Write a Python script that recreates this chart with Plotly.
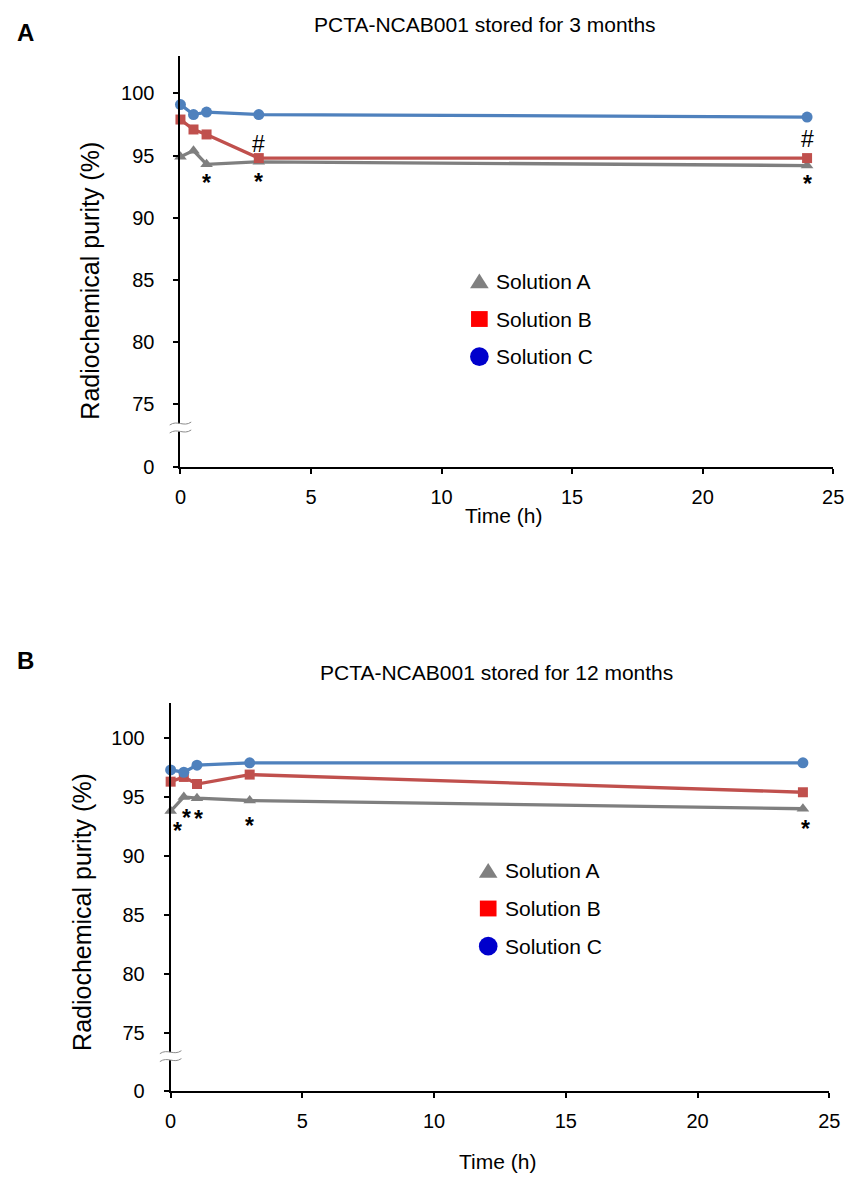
import plotly.graph_objects as go

# ---------------- data ----------------
time_h = [0, 0.5, 1, 3, 24]
series_names = ["Solution A", "Solution B", "Solution C"]

a_3m = [94.9, 95.4, 94.3, 94.5, 94.2]
b_3m = [97.9, 97.1, 96.7, 94.8, 94.8]
c_3m = [99.1, 98.3, 98.5, 98.3, 98.1]

a_12m = [93.8, 95.0, 94.9, 94.7, 94.0]
b_12m = [96.3, 96.7, 96.1, 96.9, 95.4]
c_12m = [97.3, 97.1, 97.7, 97.9, 97.9]

y_tickvals = [70, 75, 80, 85, 90, 95, 100]
y_ticktext = ["0", "75", "80", "85", "90", "95", "100"]
x_tickvals = [0, 5, 10, 15, 20, 25]

titles = ["PCTA-NCAB001 stored for 3 months", "PCTA-NCAB001 stored for 12 months"]
panel_letters = ["A", "B"]

# significance marks: (panel, series index, time index, symbol, dx px, dy px)
marks = [
    (0, 0, 2, "*", 0, -19), (0, 0, 3, "*", 0, -20), (0, 1, 3, "#", 0, 14),
    (0, 1, 4, "#", 0, 19), (0, 0, 4, "*", 0, -18),
    (1, 0, 0, "*", 7, -20), (1, 0, 1, "*", 3, -21), (1, 0, 2, "*", 2, -21),
    (1, 0, 3, "*", 0, -25), (1, 0, 4, "*", 3, -20),
]

# ---------------- styling ----------------
W, H = 853, 1187
FONT = "Arial, Liberation Sans, sans-serif"
line_colors = ["#7F7F7F", "#C0504D", "#4F81BD"]
symbols = ["triangle-up", "square", "circle"]
msizes = [11, 10, 11]
legend_colors = ["#808080", "#FF0000", "#0000CC"]


def px(x):
    return x / W


def py(y):
    return 1 - y / H


# panel geometry in pixels: (x_left, x_right, y_top, y_bottom)
panels = [(178, 844, 56.6, 471.0), (168, 840, 709.3, 1101.7)]

fig = go.Figure()
data_sets = [[a_3m, b_3m, c_3m], [a_12m, b_12m, c_12m]]

for p, sets in enumerate(data_sets):
    xa = "x" if p == 0 else "x2"
    ya = "y" if p == 0 else "y2"
    for i, vals in enumerate(sets):
        fig.add_trace(go.Scatter(
            x=time_h, y=vals, mode="lines+markers", name=series_names[i],
            line=dict(color=line_colors[i], width=3.3),
            marker=dict(symbol=symbols[i], size=msizes[i], color=line_colors[i]),
            xaxis=xa, yaxis=ya, cliponaxis=False, showlegend=False,
        ))

axis_common = dict(
    showline=True, linecolor="black", linewidth=2, ticks="outside",
    ticklen=5, tickwidth=2, tickcolor="black", showgrid=False, zeroline=False,
    tickfont=dict(family=FONT, size=20, color="black"),
)

layout = dict(
    width=W, height=H, margin=dict(l=0, r=0, t=0, b=0),
    paper_bgcolor="white", plot_bgcolor="white", showlegend=False,
)
for p, (xl, xr, yt, yb) in enumerate(panels):
    sx = "" if p == 0 else "2"
    layout["xaxis" + sx] = dict(
        axis_common, domain=[px(xl), px(xr)], range=[0, 25],
        tickvals=x_tickvals, anchor="y" + sx, ticklabelstandoff=6,
    )
    layout["yaxis" + sx] = dict(
        axis_common, domain=[py(yb), py(yt)], range=[70, 103],
        tickvals=y_tickvals, ticktext=y_ticktext, anchor="x" + sx,
        ticklabelstandoff=15,
    )
fig.update_layout(**layout)

annotations = []
shapes = []


def paper_text(text, x, y, size, angle=0, xanchor="center"):
    return dict(text=text, x=px(x), y=py(y), xref="paper", yref="paper", showarrow=False,
                xanchor=xanchor, yanchor="middle", textangle=angle,
                font=dict(family=FONT, size=size, color="black"))


# titles, panel letters, axis titles
title_pos = [(489, 25), (500, 679)]
letter_pos = [(20, 33), (20, 667)]
ytitle_pos = [(86, 283), (78, 920)]
xtitle_pos = [(508, 520), (502, 1172)]
for p in range(2):
    annotations.append(paper_text(titles[p], *title_pos[p], 21))
    annotations.append(paper_text("<b>" + panel_letters[p] + "</b>", *letter_pos[p], 24))
    annotations.append(paper_text("Radiochemical purity (%)", *ytitle_pos[p], 25, angle=-90))
    annotations.append(paper_text("Time (h)", *xtitle_pos[p], 21))

# significance marks
for (p, si, ti, sym, dx, dy) in marks:
    vals = data_sets[p][si]
    sx = "" if p == 0 else "2"
    txt = "<b>*</b>" if sym == "*" else sym
    annotations.append(dict(text=txt, x=time_h[ti], y=vals[ti], xref="x" + sx, yref="y" + sx,
                            showarrow=False, xshift=dx, yshift=dy, xanchor="center",
                            yanchor="middle",
                            font=dict(family=FONT, size=23, color="black")))

# legends (custom drawn)
legend_pos = [(483, 284), (492, 879)]
row_gap = 38
for p in range(2):
    lx, ly = legend_pos[p]
    for i in range(3):
        cy = ly + i * row_gap
        col = legend_colors[i]
        if i == 0:
            path = "M {:.4f},{:.4f} L {:.4f},{:.4f} L {:.4f},{:.4f} Z".format(
                px(lx - 9.5), py(cy + 7), px(lx + 9.5), py(cy + 7), px(lx), py(cy - 8))
            shapes.append(dict(type="path", path=path, xref="paper", yref="paper",
                               fillcolor=col, line=dict(width=0)))
        elif i == 1:
            shapes.append(dict(type="rect", xref="paper", yref="paper",
                               x0=px(lx - 8.5), x1=px(lx + 8.5), y0=py(cy + 8), y1=py(cy - 8),
                               fillcolor=col, line=dict(width=0)))
        else:
            shapes.append(dict(type="circle", xref="paper", yref="paper",
                               x0=px(lx - 9.5), x1=px(lx + 9.5), y0=py(cy + 9.5), y1=py(cy - 9.5),
                               fillcolor=col, line=dict(width=0)))
        annotations.append(paper_text(series_names[i], lx + 15, cy, 21, xanchor="left"))

# axis break marks
breaks = [(178, 427.5, 435.5), (168, 1062, 1070)]
for (ax, y1, y2) in breaks:
    shapes.append(dict(type="rect", xref="paper", yref="paper",
                       x0=px(ax - 3), x1=px(ax + 3), y0=py(y2), y1=py(y1),
                       fillcolor="white", line=dict(width=0)))
    for yy in (y1, y2):
        path = "M {:.5f},{:.5f} C {:.5f},{:.5f} {:.5f},{:.5f} {:.5f},{:.5f}".format(
            px(ax - 11), py(yy + 1.5), px(ax - 3), py(yy - 4),
            px(ax + 3), py(yy + 4), px(ax + 11), py(yy - 1.5))
        shapes.append(dict(type="path", path=path, xref="paper", yref="paper",
                           line=dict(color="#8C8C8C", width=1)))

fig.update_layout(annotations=annotations, shapes=shapes)
fig.write_html("out.html")
